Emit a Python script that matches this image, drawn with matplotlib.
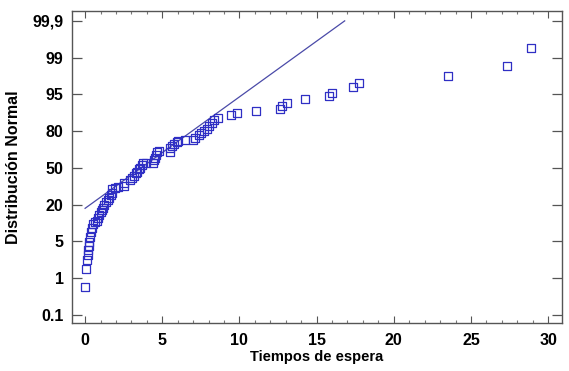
import numpy as np
import matplotlib
matplotlib.use("Agg")
import matplotlib.pyplot as plt
from matplotlib.ticker import FixedLocator, MultipleLocator

# percent levels on the probability axis (labels equally spaced in the original)
niveles = [0.1, 1, 5, 20, 50, 80, 95, 99, 99.9]
etiquetas_y = ["0.1", "1", "5", "20", "50", "80", "95", "99", "99,9"]

# tiempos de espera (ordenados) y su porcentaje acumulado
tiempos = [0.00, 0.05, 0.15, 0.19, 0.21, 0.26, 0.28, 0.32, 0.39, 0.45,
           0.54, 0.65, 0.76, 0.86, 0.93, 1.04, 1.12, 1.19, 1.25, 1.36,
           1.47, 1.56, 1.66, 1.73, 1.77, 1.95, 2.12, 2.49, 2.53, 2.92,
           3.03, 3.18, 3.31, 3.39, 3.50, 3.57, 3.68, 3.78, 3.96, 4.43,
           4.47, 4.54, 4.60, 4.69, 4.78, 5.47, 5.51, 5.62, 5.77, 5.95,
           6.05, 6.49, 7.02, 7.13, 7.35, 7.50, 7.72, 7.89, 8.06, 8.22,
           8.37, 8.64, 9.45, 9.84, 11.09, 12.60, 12.75, 13.08, 14.27, 15.78,
           16.00, 17.34, 17.73, 23.54, 27.35, 28.90]
porcentaje = [0.78, 1.96, 2.96, 3.52, 4.08, 4.52, 4.96, 6.95, 8.9, 10.55,
              11.9, 12.8, 13.25, 14.45, 15.8, 16.85, 17.75, 18.8, 19.85, 21.8,
              23.9, 25.7, 27.8, 29.9, 32.6, 33.8, 34.7, 35.3, 37.4, 40.1,
              41.9, 43.7, 45.5, 46.7, 48.8, 50.0, 52.4, 54.2, 54.2, 53.6,
              56.3, 58.1, 60.5, 62.6, 63.8, 63.2, 65.9, 67.7, 69.5, 71.3,
              72.2, 72.8, 73.1, 74.6, 76.7, 78.2, 80.15, 81.05, 82.1, 83.15,
              84.5, 85.4, 86.45, 87.2, 88.25, 89.15, 90.2, 91.55, 93.05, 94.4,
              95.2, 95.76, 96.28, 97.04, 98.08, 99.23]

# recta de referencia
recta_x = [0.0, 16.82]
recta_y = [18.5, 99.9]

P = np.array(niveles, float)
IDX = np.arange(len(P), dtype=float)


def fwd(p):
    p = np.asarray(p, float)
    out = np.interp(p, P, IDX)
    out = np.where(p < P[0], (p - P[0]) / (P[1] - P[0]), out)
    out = np.where(p > P[-1], IDX[-1] + (p - P[-1]) / (P[-1] - P[-2]), out)
    return out


def inv(i):
    i = np.asarray(i, float)
    out = np.interp(i, IDX, P)
    out = np.where(i < 0, P[0] + i * (P[1] - P[0]), out)
    out = np.where(i > IDX[-1], P[-1] + (i - IDX[-1]) * (P[-1] - P[-2]), out)
    return out


plt.rcParams['font.family'] = ['Liberation Sans', 'DejaVu Sans']
plt.rcParams['font.weight'] = 'bold'

fig = plt.figure(figsize=(5.69, 3.71), dpi=100)
ax = fig.add_axes([0.1265, 0.1294, 0.8612, 0.8401])

ax.set_yscale('function', functions=(fwd, inv))

marca = [(-0.85, -1), (0.85, -1), (0.85, 1), (-0.85, 1), (-0.85, -1)]
ax.plot(recta_x, recta_y, color='#4a4aa8', lw=0.9)
ax.plot(tiempos, porcentaje, linestyle='none', marker=marca, markersize=6,
        markerfacecolor='none', markeredgecolor='#2f2fc4', markeredgewidth=0.9)

ax.set_xlim(-0.85, 30.9)
ax.set_ylim(float(inv(-0.22)), float(inv(8.26)))

ax.xaxis.set_major_locator(MultipleLocator(5))
ax.xaxis.set_minor_locator(MultipleLocator(1))
ax.yaxis.set_major_locator(FixedLocator(niveles))
ax.set_yticklabels(etiquetas_y)
ax.yaxis.set_minor_locator(FixedLocator([]))

ax.tick_params(axis='x', which='major', direction='in', length=5, width=0.8,
               top=True, pad=7.5, labelsize=11.5, colors='#555555', labelcolor='black')
ax.tick_params(axis='x', which='minor', direction='in', length=2.5, width=0.8,
               top=True, colors='#777777')
ax.tick_params(axis='y', which='major', direction='in', length=7, width=0.9,
               right=True, pad=6, labelsize=11.5, colors='#555555', labelcolor='black')

for s in ax.spines.values():
    s.set_color('#555555')
    s.set_linewidth(1.0)

ax.set_xlabel('Tiempos de espera', fontsize=10.5, fontweight='bold')
ax.xaxis.set_label_coords(0.5, -0.086)
ax.set_ylabel('Distribución Normal', fontsize=11.5, fontweight='bold')
ax.yaxis.set_label_coords(-0.104, 0.5)

fig.savefig('out.png', dpi=100)
